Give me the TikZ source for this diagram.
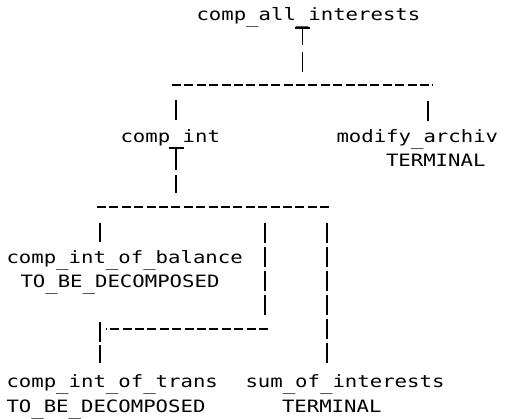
\documentclass[tikz,border=0pt]{standalone}
\usepackage{fontspec}
\usetikzlibrary{calc}
\newfontfamily\printfont[FakeStretch=1.215]{DejaVu Sans Mono}
% printer underscore sits a little lower than the font's own
\newcommand\ul{\raisebox{-3pt}{\_}}
\begin{document}
\begin{tikzpicture}[x=1pt,y=-1pt,
  label/.style={anchor=base west,inner sep=0pt,outer sep=0pt,
    font=\printfont\fontsize{17}{20}\selectfont},
  wire/.style={line width=1.9pt},
  bus/.style={wire,dash pattern=on 9pt off 3.4pt},
  riser/.style={wire,dash pattern=on 19.5pt off 4.5pt}]
\useasboundingbox (0,0) rectangle (508,418);

% module names and their status
\node[label] (all)   at (196.5,20)  {comp\ul all\ul interests};
\node[label] (cint)  at (120.5,142) {comp\ul int};
\node[label] (mod)   at (336.5,142) {modify\ul archiv};
\node[label] (modst) at (386,166)   {TERMINAL};
\node[label] (bal)   at (6.5,263)   {comp\ul int\ul of\ul balance};
\node[label] (balst) at (20.5,287)  {TO\ul BE\ul DECOMPOSED};
\node[label] (trn)   at (6.5,387)   {comp\ul int\ul of\ul trans};
\node[label] (trnst) at (6.5,412)   {TO\ul BE\ul DECOMPOSED};
\node[label] (sum)   at (245.5,387) {sum\ul of\ul interests};
\node[label] (sumst) at (282,412)   {TERMINAL};

% junction points of the tree
\coordinate (t1)   at (302.5,28);
\coordinate (b1l)  at (172,85);
\coordinate (b1r)  at (433,85);
\coordinate (t2)   at (176,148);
\coordinate (b2l)  at (97,207);
\coordinate (b2r)  at (330,207);
\coordinate (b3l)  at (106,329);
\coordinate (b3r)  at (268,329);

% comp_all_interests -> its two children
\draw[wire] ($(t1)+(-7.5,0)$) -- ($(t1)+(7.5,0)$);
\draw[wire] (t1) -- ++(0,17);
\draw[wire] ($(t1)+(0,24)$) -- ++(0,20);
\draw[bus] (b1l) -- (b1r);
\draw[wire] (176,100) -- (176,120);
\draw[wire] (428,101) -- (428,121);

% comp_int -> its children
\draw[wire] ($(t2)+(-7.5,0)$) -- ($(t2)+(7.5,0)$);
\draw[wire] (t2) -- ++(0,22);
\draw[wire] ($(t2)+(0,27)$) -- ++(0,18);
\draw[bus] (b2l) -- (b2r);
\draw[wire] (100,223) -- (100,242);
\draw[riser] (265,223) -- (265,315);
\draw[riser] (327,223) -- (327,365);

% branch down to comp_int_of_trans
\draw[bus] (b3r) -- (b3l);
\draw[wire] (100,322) -- (100,342);
\draw[wire] (100,345) -- (100,363);
\end{tikzpicture}
\end{document}
